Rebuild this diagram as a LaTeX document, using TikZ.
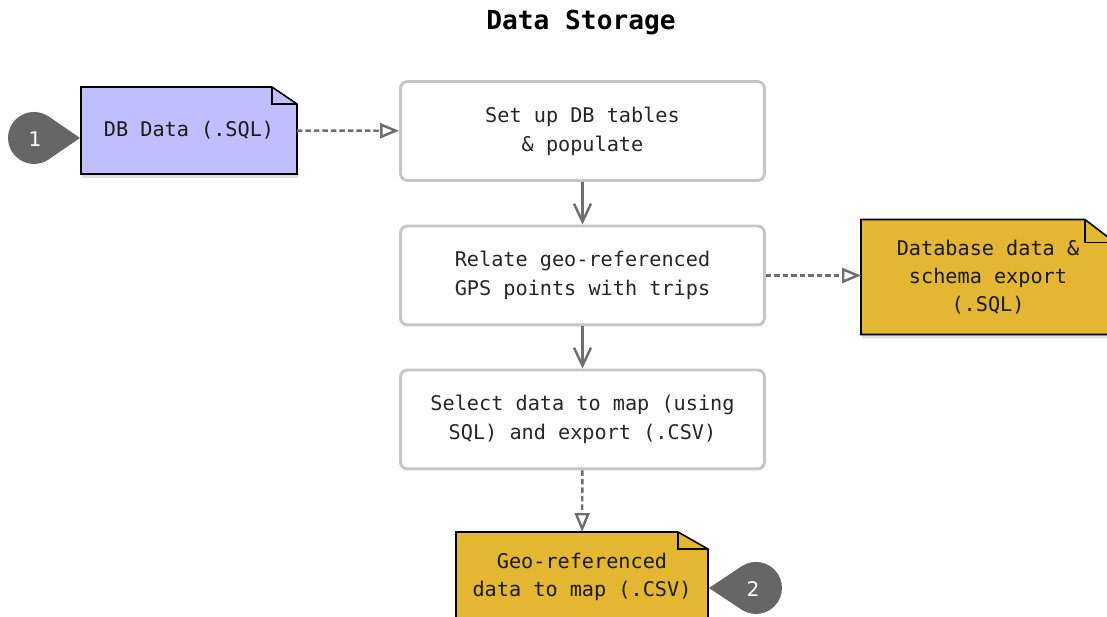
\documentclass[tikz,border=0pt]{standalone}
\usepackage{fontspec}
\setmainfont{DejaVu Sans}
\setmonofont{DejaVu Sans Mono}
\usetikzlibrary{arrows.meta,backgrounds}

\definecolor{boxline}{HTML}{C3C7C7}
\definecolor{flowgray}{HTML}{6E6E6E}
\definecolor{lavender}{HTML}{BFBFFF}
\definecolor{mustard}{HTML}{E3B731}
\definecolor{markergray}{HTML}{666666}

\tikzset{
  title/.style={font=\ttfamily\bfseries\fontsize{14.9}{18}\selectfont},
  process/.style={draw=boxline, line width=1.7pt, rounded corners=0.14cm, fill=white,
    minimum width=7.28cm, minimum height=1.98cm, align=center, text=black!85,
    font=\ttfamily\fontsize{11.5}{16.4}\selectfont},
  note/.style={inner sep=0pt, outer sep=0pt, align=center, text=black!90,
    font=\ttfamily\fontsize{11.5}{16}\selectfont},
  pinlabel/.style={text=white!93, font=\fontsize{11.5}{13}\selectfont},
  flow/.style={draw=flowgray, line width=1.4pt, -{Straight Barb[length=0.36cm,width=0.34cm]}},
  dataflow/.style={draw=flowgray, line width=1.4pt, dash pattern=on 0.11cm off 0.06cm,
    -{Triangle[open,length=0.38cm,width=0.3cm]}},
}

% file outline with a folded corner: node, fill, fold width, fold height
\newcommand\dogear[4]{%
  \fill[black!12] ([shift={(1,4)}]#1.south west) -- ([shift={(1,4)}]#1.north west)
    -- ([shift={(1-#3,4)}]#1.north east) -- ([shift={(1,4+#4)}]#1.north east)
    -- ([shift={(1,4)}]#1.south east) -- cycle;
  \filldraw[fill=#2, draw=black, line width=0.9pt] (#1.south west) -- (#1.north west)
    -- ([shift={(-#3,0)}]#1.north east) -- ([shift={(0,#4)}]#1.north east)
    -- (#1.south east) -- cycle;
  \draw[line width=0.9pt] ([shift={(-#3,0)}]#1.north east) |- ([shift={(0,#4)}]#1.north east);
}

\begin{document}
\begin{tikzpicture}[x=0.02cm, y=-0.02cm]
  \useasboundingbox (0,0) rectangle (1107,617);

  \node[title] (title) at (581,23) {Data Storage};

  % processing steps
  \node[process] (setup) at (582.5,131) {Set up DB tables\\\& populate};
  \node[process] (relate) at (582.5,275.5) {Relate geo-referenced\\GPS points with trips};
  \node[process] (select) at (582.5,419.5) {Select data to map (using\\SQL) and export (.CSV)};

  % files
  \node[note, minimum width=4.32cm, minimum height=1.74cm] (sqlin) at (189,130.5) {DB Data (.SQL)};
  \node[note, minimum width=5.08cm, minimum height=2.3cm] (dump) at (988,277) {Database data \&\\schema export\\(.SQL)};
  \node[note, minimum width=5.04cm, minimum height=1.8cm] (csv) at (582,577) {Geo-referenced\\data to map (.CSV)};

  \begin{scope}[on background layer]
    \dogear{sqlin}{lavender}{25}{17}
    \dogear{dump}{mustard}{30}{23}
    \dogear{csv}{mustard}{30}{17}
  \end{scope}

  % markers
  \fill[markergray] (80,138) -- (48.7,116.5) arc[start angle=-55.6, end angle=-304.4, radius=26] -- cycle;
  \node[pinlabel] (m1) at (35,139) {1};
  \fill[markergray] (709,588) -- (741.6,566.3) arc[start angle=-123.6, end angle=123.6, radius=26] -- cycle;
  \node[pinlabel] (m2) at (753,589) {2};

  \draw[flow] (setup) -- (relate);
  \draw[flow] (relate) -- (select);

  \draw[dataflow] (sqlin) -- (setup);
  \draw[dataflow] (relate) -- (relate -| dump.west);
  \draw[dataflow] (select) -- (csv);
\end{tikzpicture}
\end{document}
